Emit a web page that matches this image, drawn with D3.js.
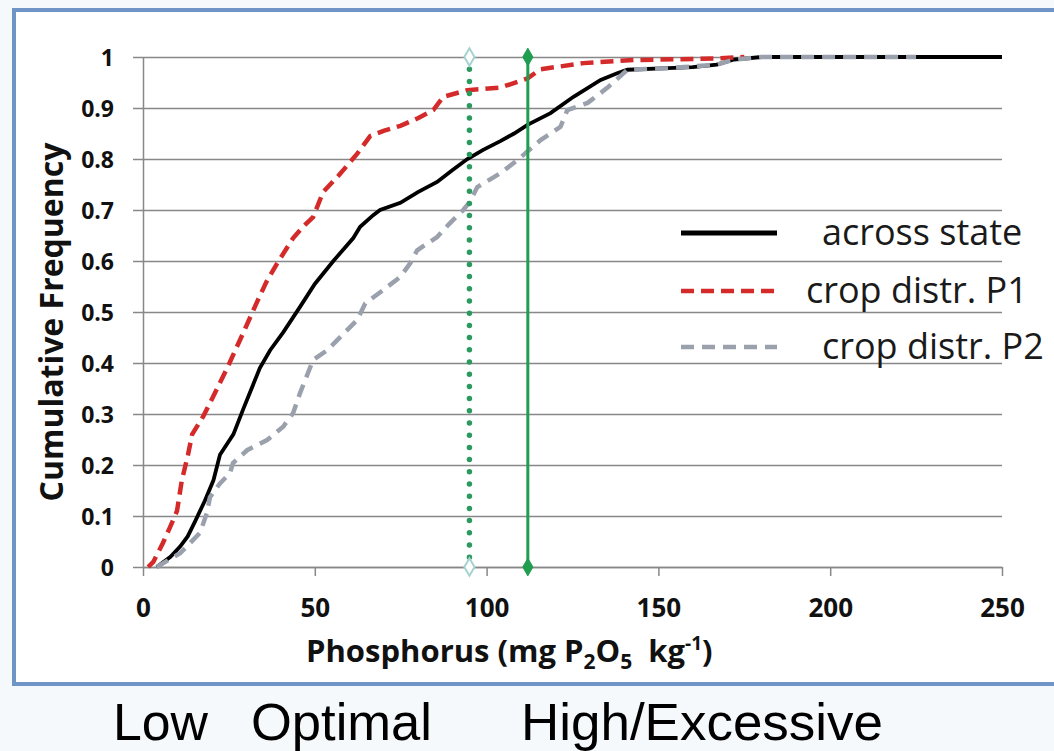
<!DOCTYPE html>
<html>
<head>
<meta charset="utf-8">
<script src="https://cdn.jsdelivr.net/npm/d3@7"></script>
<style>
  body { margin: 0; background: #f6f9fc; }
  svg { display: block; }
</style>
</head>
<body>
<script>
// cumulative frequency curves, [phosphorus, fraction]
const acrossState = [[4,0],[8,0.02],[10.8,0.04],[13,0.06],[15.2,0.09],[18,0.13],[20.5,0.17],[22.4,0.22],[26.3,0.26],[29.2,0.31],[34,0.39],[37,0.425],[40.8,0.46],[45.7,0.51],[50,0.555],[55.4,0.6],[61.2,0.645],[63.2,0.667],[67,0.69],[69,0.7],[74.9,0.714],[80,0.735],[85.6,0.755],[90,0.778],[94.4,0.8],[99,0.818],[104,0.835],[108,0.85],[111.9,0.867],[118.6,0.89],[125.3,0.922],[133.2,0.955],[138,0.968],[141,0.975],[152.7,0.978],[160,0.98],[167,0.985],[172,0.995],[180,1],[250,1]];
const cropP1 = [[1.5,0],[3,0.01],[5.8,0.047],[8,0.08],[9.9,0.11],[11.3,0.17],[13.1,0.22],[14.3,0.26],[17.5,0.295],[20.4,0.334],[24.5,0.39],[29.1,0.458],[33.2,0.52],[36,0.56],[39,0.595],[43.7,0.645],[47,0.67],[49.5,0.686],[52.4,0.735],[57,0.768],[62.3,0.81],[66.1,0.845],[70,0.855],[74.9,0.865],[80,0.88],[84.5,0.896],[87.4,0.922],[94.4,0.935],[104,0.94],[111.9,0.958],[115.7,0.976],[128.2,0.988],[142.8,0.994],[167,0.997],[175,1]];
const cropP2 = [[4,0],[10.8,0.027],[16.6,0.067],[18.6,0.106],[19.5,0.137],[22.4,0.164],[25.3,0.184],[26.2,0.204],[30.3,0.229],[36.1,0.249],[40.8,0.275],[43.7,0.302],[45.7,0.341],[49.5,0.406],[53.6,0.425],[58,0.455],[62.3,0.484],[64.7,0.517],[69.9,0.543],[74.9,0.569],[77.8,0.596],[79.8,0.621],[85.6,0.647],[89,0.672],[93.2,0.7],[95,0.715],[97.3,0.745],[104,0.772],[109,0.798],[112.8,0.82],[115.7,0.837],[121.5,0.863],[123.5,0.896],[129.4,0.91],[135.2,0.94],[141,0.975],[152.7,0.978],[167,0.985],[172,0.995],[180,1],[225,1]];

const seriesNames = ["across state", "crop distr. P1", "crop distr. P2"];
const thresholds = [95, 112];   // optimal lower / upper limit
const xTicks = [0, 50, 100, 150, 200, 250];
const yTicks = [0, 0.1, 0.2, 0.3, 0.4, 0.5, 0.6, 0.7, 0.8, 0.9, 1];
const ranges = ["Low", "Optimal", "High/Excessive"];

const W = 1054, H = 751;
const font = "'Open Sans', sans-serif";
const svg = d3.select("body").append("svg").attr("width", W).attr("height", H);

// frame
svg.append("rect")
  .attr("x", 14).attr("y", 10).attr("width", 1060).attr("height", 674)
  .attr("fill", "#fff").attr("stroke", "#6f94c6").attr("stroke-width", 4);

const x = d3.scaleLinear().domain([0, 250]).range([143, 1002]);
const y = d3.scaleLinear().domain([0, 1]).range([567, 57]);

// gridlines + y axis
const yAxis = svg.append("g")
  .attr("transform", "translate(143,0)")
  .call(d3.axisLeft(y).tickValues(yTicks).tickFormat(d3.format("")).tickSize(10).tickSizeOuter(0));
yAxis.select(".domain").attr("stroke", "#888").attr("stroke-width", 1.5);
yAxis.selectAll(".tick line").attr("stroke", "#888").attr("stroke-width", 1.5)
  .attr("x1", -10).attr("x2", x(250) - 143);
yAxis.selectAll(".tick text")
  .attr("x", -29).attr("dy", "0.36em")
  .style("font-family", font).style("font-weight", "bold")
  .style("font-size", "23px").attr("fill", "#111");

const xAxis = svg.append("g")
  .attr("transform", "translate(0,567)")
  .call(d3.axisBottom(x).tickValues(xTicks).tickSize(9).tickSizeOuter(0));
xAxis.select(".domain").attr("stroke", "#888").attr("stroke-width", 1.5);
xAxis.selectAll(".tick line").attr("stroke", "#888").attr("stroke-width", 1.5);
xAxis.selectAll(".tick text")
  .attr("y", 32)
  .style("font-family", font).style("font-weight", "bold")
  .style("font-size", "26px").attr("fill", "#111");

// axis titles
svg.append("text")
  .attr("transform", "translate(63,322) rotate(-90)")
  .attr("text-anchor", "middle")
  .style("font-family", font).style("font-weight", "bold")
  .style("font-size", "32px").attr("fill", "#111")
  .text("Cumulative Frequency");

const xt = svg.append("text")
  .attr("x", 306).attr("y", 662)
  .style("font-family", font).style("font-weight", "bold")
  .style("font-size", "31px").attr("fill", "#111");
xt.append("tspan").text("Phosphorus (mg P");
xt.append("tspan").attr("dy", 7).style("font-size", "21px").text("2");
xt.append("tspan").attr("dy", -7).text("O");
xt.append("tspan").attr("dy", 7).style("font-size", "21px").text("5");
xt.append("tspan").attr("dy", -7).text("\u00a0 kg");
xt.append("tspan").attr("dy", -12).style("font-size", "19px").text("-1");
xt.append("tspan").attr("dy", 12).text(")");

// curves
const line = d3.line().x(d => x(d[0])).y(d => y(d[1]));
const styles = [
  { data: acrossState, color: "#000", width: 3.8, dash: null },
  { data: cropP1, color: "#d42a2a", width: 4.5, dash: "13,7" },
  { data: cropP2, color: "#9aa1ad", width: 4.5, dash: "13,8" }
];
styles.forEach(s => {
  svg.append("path").datum(s.data)
    .attr("d", line).attr("fill", "none")
    .attr("stroke", s.color).attr("stroke-width", s.width)
    .attr("stroke-dasharray", s.dash);
});

// threshold lines
const green = "#1f9e50";
svg.append("line")
  .attr("x1", x(thresholds[0])).attr("x2", x(thresholds[0]))
  .attr("y1", y(1)).attr("y2", y(0))
  .attr("stroke", "#2a9a5e").attr("stroke-width", 5.5)
  .attr("stroke-linecap", "round").attr("stroke-dasharray", "0,12.2");
svg.append("line")
  .attr("x1", x(thresholds[1])).attr("x2", x(thresholds[1]))
  .attr("y1", y(1)).attr("y2", y(0))
  .attr("stroke", green).attr("stroke-width", 3);

const diamond = d3.symbol().type(d3.symbolDiamond).size(90);
[0, 1].forEach(v => {
  svg.append("path").attr("d", diamond)
    .attr("transform", `translate(${x(thresholds[0])},${y(v)})`)
    .attr("fill", "#fff").attr("stroke", "#a6d3d2").attr("stroke-width", 2);
  svg.append("path").attr("d", diamond)
    .attr("transform", `translate(${x(thresholds[1])},${y(v)})`)
    .attr("fill", green).attr("stroke", green).attr("stroke-width", 1);
});

// legend
const legY = [233, 291, 347];
const legX = [822, 806, 822];
styles.forEach((s, i) => {
  svg.append("line")
    .attr("x1", 681).attr("x2", 777).attr("y1", legY[i]).attr("y2", legY[i])
    .attr("stroke", s.color).attr("stroke-width", s.width + (i ? 0 : 1))
    .attr("stroke-dasharray", s.dash);
  svg.append("text")
    .attr("x", legX[i]).attr("y", legY[i] + 12)
    .style("font-family", font).style("font-size", "36px")
    .attr("fill", "#1a1a1a")
    .text(seriesNames[i]);
});

// range labels under the chart
const rangeX = [113, 251, 521];
const rangeW = [95, 181, 362];
ranges.forEach((r, i) => {
  svg.append("text")
    .attr("x", rangeX[i]).attr("y", 740)
    .attr("textLength", rangeW[i]).attr("lengthAdjust", "spacingAndGlyphs")
    .style("font-family", "'Liberation Sans', Arial, sans-serif").style("font-size", "52px")
    .attr("fill", "#000")
    .text(r);
});
</script>
</body>
</html>
